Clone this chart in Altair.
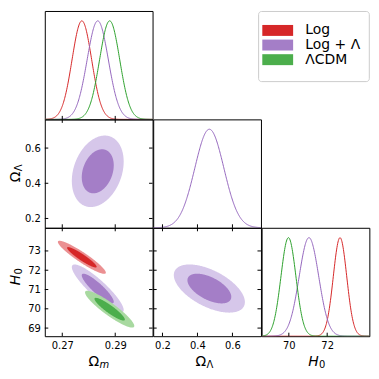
import numpy as np
import pandas as pd
import altair as alt

# ---------------- data ----------------
models = ["Log", "Log + Λ", "ΛCDM"]
inner_colors = ["#d62728", "#a47ec7", "#4cae4c"]
outer_colors = ["#eb9092", "#d6c7ea", "#a8d9a0"]
line_colors = ["#d62728", "#9467bd", "#2ca02c"]

# marginal means / widths (NaN = parameter not in that model)
om_mean = [0.2774, 0.2834, 0.2879]
om_sigma = [0.0037, 0.0040, 0.0038]
ol_mean = [np.nan, 0.468, np.nan]
ol_sigma = [np.nan, 0.083, np.nan]
h0_mean = [72.67, 71.05, 69.98]
h0_sigma = [0.35, 0.51, 0.39]
# correlations
rho_om_ol = [np.nan, 0.27, np.nan]
rho_om_h0 = [-0.93, -0.89, -0.91]
rho_ol_h0 = [np.nan, -0.56, np.nan]
contour_levels = [0.95, 0.68]

# axis ranges and ticks
om_range = [0.2634, 0.3041]
ol_range = [0.147, 0.763]
h0_range = [68.58, 74.2]
om_ticks = [0.27, 0.29]
ol_ticks = [0.2, 0.4, 0.6]
h0_xticks = [70, 72]
h0_yticks = [69, 70, 71, 72, 73]

W, H = 108.35, 109
TL = 3.5
FONT = "DejaVu Sans"

P = {
    "om": dict(mean=om_mean, sigma=om_sigma, rng=om_range, xt=om_ticks, yt=om_ticks, fmt=".2f",
               main="Ω", sub="m", main_it=False, sub_it=True),
    "ol": dict(mean=ol_mean, sigma=ol_sigma, rng=ol_range, xt=ol_ticks, yt=ol_ticks, fmt=".1f",
               main="Ω", sub="Λ", main_it=False, sub_it=False),
    "h0": dict(mean=h0_mean, sigma=h0_sigma, rng=h0_range, xt=h0_xticks, yt=h0_yticks, fmt="d",
               main="H", sub="0", main_it=True, sub_it=False),
}
CORR = {("om", "ol"): rho_om_ol, ("om", "h0"): rho_om_h0, ("ol", "h0"): rho_ol_h0}
XJ = {"om": 54.7, "ol": 53.2, "h0": 57.5}
YJ = {"ol": 52.5, "h0": 47.2}

col_scale = alt.Scale(domain=models, range=inner_colors)
fill_scale = alt.Scale(domain=models, range=outer_colors)
stroke_scale = alt.Scale(domain=models, range=line_colors)


def axis_for(p, show, orient):
    if not show:
        return None
    return alt.Axis(values=P[p]["xt"] if orient == "x" else P[p]["yt"], format=P[p]["fmt"],
                    ticks=False, tickSize=0, domain=False, grid=False, title=None,
                    labelFontSize=10, labelPadding=4.5, labelFont=FONT, labelColor="black",
                    labelFlush=False, labelOverlap=False)


def xenc(field, p, show):
    return alt.X(field, type="quantitative", scale=alt.Scale(domain=P[p]["rng"], nice=False, zero=False),
                 axis=axis_for(p, show, "x"))


def yenc(field, p, show):
    return alt.Y(field, type="quantitative", scale=alt.Scale(domain=P[p]["rng"], nice=False, zero=False),
                 axis=axis_for(p, show, "y"))


def tick_layers(px, py, showx, showy, sides):
    layers = []
    xt = pd.DataFrame({"v": P[px]["xt"]})
    if "bottom" in sides:
        layers.append(alt.Chart(xt).mark_rule(color="black", strokeWidth=1).encode(
            x=xenc("v", px, showx), y=alt.value(H), y2=alt.value(H - TL)))
    if "top" in sides:
        layers.append(alt.Chart(xt).mark_rule(color="black", strokeWidth=1).encode(
            x=xenc("v", px, showx), y=alt.value(0), y2=alt.value(TL)))
    if py is not None:
        yt = pd.DataFrame({"v": P[py]["yt"]})
        layers.append(alt.Chart(yt).mark_rule(color="black", strokeWidth=1).encode(
            y=yenc("v", py, showy), x=alt.value(0), x2=alt.value(TL)))
        layers.append(alt.Chart(yt).mark_rule(color="black", strokeWidth=1).encode(
            y=yenc("v", py, showy), x=alt.value(W), x2=alt.value(W - TL)))
    return layers


def text_layer(txt, x, y, size, italic, align, angle=0):
    return alt.Chart(pd.DataFrame({"t": [txt]})).mark_text(
        align=align, baseline="alphabetic", fontSize=size, font=FONT, color="black",
        fontStyle="italic" if italic else "normal", angle=angle).encode(
        text="t:N", x=alt.value(x), y=alt.value(y))


def xtitle(p):
    j = XJ[p]
    return [text_layer(P[p]["main"], j, 138.7, 14, P[p]["main_it"], "right"),
            text_layer(P[p]["sub"], j + 0.3, 140.7, 10, P[p]["sub_it"], "left")]


def ytitle(p):
    j = YJ[p]
    return [text_layer(P[p]["main"], -25, j, 14, P[p]["main_it"], "right", 270),
            text_layer(P[p]["sub"], -23, j - 0.3, 10, P[p]["sub_it"], "left", 270)]


def panel1d(p, showx):
    xs = np.linspace(P[p]["rng"][0], P[p]["rng"][1], 300)
    frames = []
    for i, m in enumerate(models):
        mu, sd = P[p]["mean"][i], P[p]["sigma"][i]
        if np.isnan(mu):
            continue
        frames.append(pd.DataFrame({"x": xs, "d": np.exp(-0.5 * ((xs - mu) / sd) ** 2), "model": m}))
    df = pd.concat(frames)
    line = alt.Chart(df).mark_line(strokeWidth=1, clip=True).encode(
        x=xenc("x", p, showx),
        y=alt.Y("d:Q", scale=alt.Scale(domain=[0, 1.1], nice=False, zero=False), axis=None),
        stroke=alt.Stroke("model:N", scale=stroke_scale, legend=None),
        detail="model:N")
    layers = [line] + tick_layers(p, None, showx, False, ["bottom"])
    if showx:
        layers += xtitle(p)
    return alt.layer(*layers).properties(width=W, height=H)


def ellipse_df(px, py, i):
    mx, sx = P[px]["mean"][i], P[px]["sigma"][i]
    my, sy = P[py]["mean"][i], P[py]["sigma"][i]
    rho = CORR[(px, py)][i]
    u = -np.cos(np.linspace(0, np.pi, 160))
    out = []
    for lev in contour_levels:
        r = np.sqrt(-2 * np.log(1 - lev))
        yc = my + rho * sy * r * u
        hw = sy * np.sqrt(1 - rho ** 2) * r * np.sqrt(np.clip(1 - u ** 2, 0, None))
        out.append(pd.DataFrame({"x": mx + r * sx * u, "lo": yc - hw, "hi": yc + hw,
                                 "model": models[i], "lev": lev}))
    return out


def panel2d(px, py, showx, showy):
    layers = []
    for i, m in enumerate(models):
        if np.isnan(P[px]["mean"][i]) or np.isnan(P[py]["mean"][i]):
            continue
        outer, inner = ellipse_df(px, py, i)
        layers.append(alt.Chart(outer).mark_area(opacity=1, clip=True).encode(
            x=xenc("x", px, showx), y=yenc("lo", py, showy), y2="hi:Q",
            fill=alt.Fill("model:N", scale=fill_scale, legend=None)))
        layers.append(alt.Chart(inner).mark_area(opacity=1, clip=True).encode(
            x=xenc("x", px, showx), y=yenc("lo", py, showy), y2="hi:Q",
            color=alt.Color("model:N", scale=col_scale, legend=None)))
    layers += tick_layers(px, py, showx, showy, ["bottom", "top"])
    if showx:
        layers += xtitle(px)
    if showy:
        layers += ytitle(py)
    return alt.layer(*layers).properties(width=W, height=H)


def blank():
    return alt.Chart(pd.DataFrame({"v": [0]})).mark_point(opacity=0).encode(
        x=alt.X("v:Q", axis=None), y=alt.Y("v:Q", axis=None)).properties(
        width=W, height=H, view=alt.ViewBackground(stroke="transparent"))


def legend_cell():
    ldf = pd.DataFrame({"label": models})
    box = alt.Chart(pd.DataFrame({"v": [0]})).mark_rect(
        fill="white", stroke="#cccccc", strokeWidth=1, cornerRadius=3).encode(
        x=alt.value(-3), x2=alt.value(108.3), y=alt.value(0.5), y2=alt.value(71))
    yl = alt.Y("label:N", scale=alt.Scale(domain=models, range=[12.2, 56.3]), axis=None)
    sw = alt.Chart(ldf).mark_point(shape="M-1,-0.355H1V0.355H-1Z", size=961, filled=True, opacity=1).encode(
        x=alt.value(16.2), y=yl, color=alt.Color("label:N", scale=col_scale, legend=None))
    tx = alt.Chart(ldf).mark_text(align="left", baseline="middle", fontSize=14, font=FONT, color="black").encode(
        x=alt.value(44), y=yl, text="label:N")
    return alt.layer(box, sw, tx).properties(width=W, height=H, view=alt.ViewBackground(stroke="transparent"))


cells = [
    panel1d("om", False), blank(), legend_cell(),
    panel2d("om", "ol", False, True), panel1d("ol", False), blank(),
    panel2d("om", "h0", True, True), panel2d("ol", "h0", True, False), panel1d("h0", True),
]

chart = alt.concat(*cells, columns=3, spacing=0, bounds="flush").properties(
    padding={"left": 0, "top": 1, "right": 0, "bottom": 0}
).configure(font=FONT).configure_view(stroke="black", strokeWidth=1)

chart.save("out.html", embed_options={"renderer": "svg", "actions": False})
